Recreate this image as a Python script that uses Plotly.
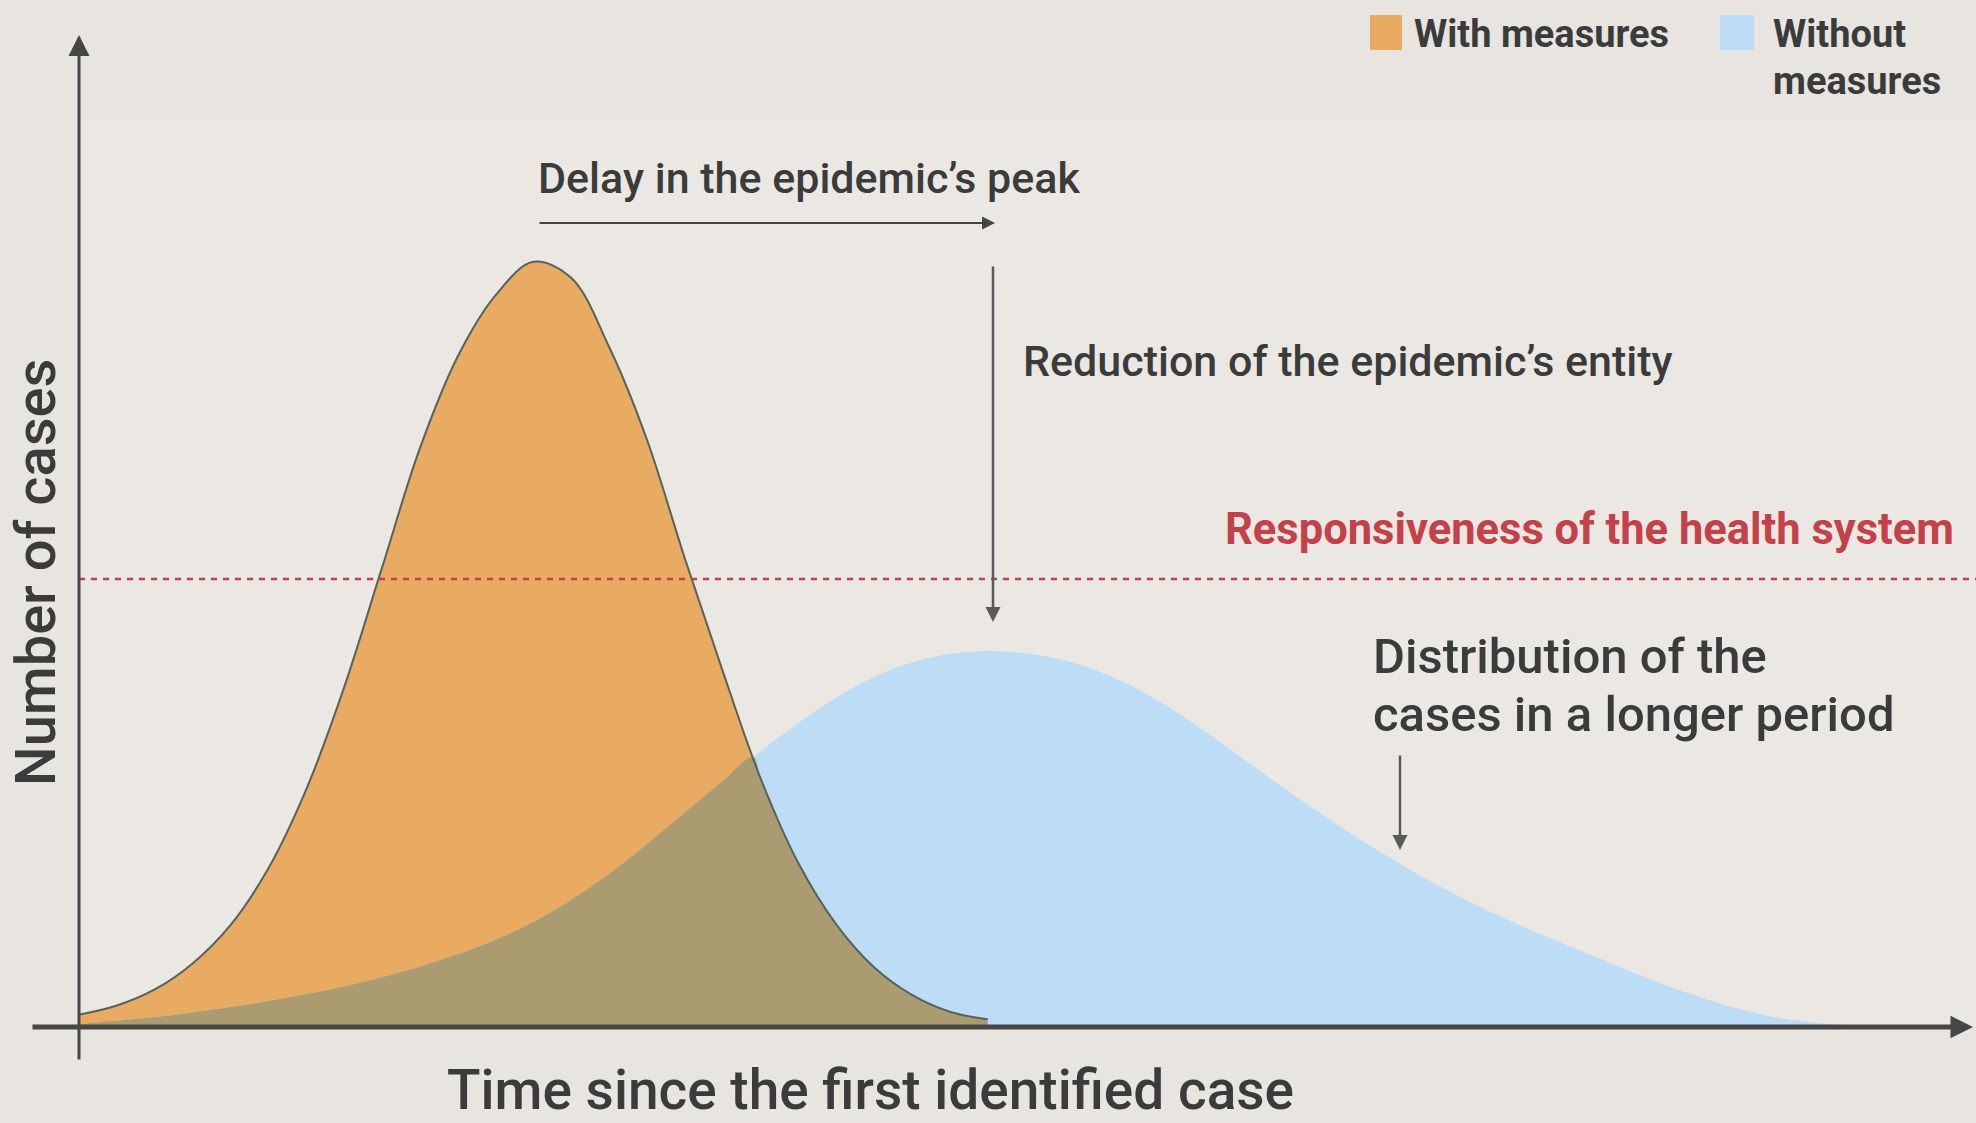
import numpy as np
import plotly.graph_objects as go

# ---- data (arbitrary units) ----
time_with = [0, 2, 4, 6, 8, 10, 12, 14, 16, 18, 20, 22, 24, 26, 28, 30, 32, 34, 36, 38, 40, 42, 44, 46, 48]
cases_with = [1.6, 2.8, 4.9, 8.3, 13.3, 20.7, 31.0, 44.3, 59.9, 75.5, 87.5, 95.5, 99.9, 97.8, 88.8,
              76.7, 61.2, 46.5, 32.5, 21.4, 13.4, 7.8, 4.2, 2.0, 1.0]

time_without = [0, 2, 4, 6, 8, 10, 12, 14, 16, 18, 20, 22, 24, 26, 28, 30, 32, 34, 36, 38, 40, 42, 44, 46, 48,
                50, 52, 54, 56, 58, 60, 62, 64, 66, 68, 70, 72, 74, 76, 78, 80, 82, 84, 86, 88, 90, 92, 94, 96]
cases_without = [0.4, 0.8, 1.3, 1.9, 2.6, 3.4, 4.3, 5.3, 6.5, 7.9, 9.5, 11.4, 13.7, 16.6, 20.0, 23.9, 28.0,
                 32.1, 36.0, 39.7, 43.0, 45.7, 47.6, 48.7, 49.1, 48.8, 47.9, 46.3, 44.0, 41.1, 37.7, 34.1,
                 30.6, 27.2, 24.0, 21.0, 18.2, 15.7, 13.4, 11.3, 9.3, 7.2, 5.3, 3.6, 2.2, 1.1, 0.5, 0.2, 0.0]

health_capacity = 58.5

legend_labels = ["With measures", "Without", "measures"]

# ---- colours ----
BG = "#e8e4e0"
PANEL = "#ebe8e4"
ORANGE = "#e9aa62"
BLUE = "#bddcf6"
OLIVE = "#aa9c70"
OUTLINE = "#55635d"
RED = "#c5414a"
TXT = "#3a3c3b"
AXIS = "#464646"
FONT = "Roboto"

W, H = 1976, 1123
PX_X = 18.93   # pixels per time unit
PX_Y = 7.66    # pixels per case unit
X0_PX, Y0_PX = 79, 1027
xmin = -X0_PX / PX_X
xmax = xmin + W / PX_X
ymin = -(H - Y0_PX) / PX_Y
ymax = ymin + H / PX_Y


def X(px):
    return (px - X0_PX) / PX_X


def Y(py):
    return (Y0_PX - py) / PX_Y


# ---- overlap (area under both curves) ----
tw = np.array(time_with, float)
ow = np.array(cases_with, float)
bw = np.array(cases_without[:len(time_with)], float)
ov_x, ov_y = [], []
for i in range(len(tw)):
    ov_x.append(tw[i])
    ov_y.append(min(ow[i], bw[i]))
    if i < len(tw) - 1:
        d0 = ow[i] - bw[i]
        d1 = ow[i + 1] - bw[i + 1]
        if d0 * d1 < 0:
            f = d0 / (d0 - d1)
            ov_x.append(tw[i] + f * (tw[i + 1] - tw[i]))
            ov_y.append(ow[i] + f * (ow[i + 1] - ow[i]))

fig = go.Figure()

fig.add_trace(go.Scatter(x=time_with, y=cases_with, mode="lines", fill="tozeroy",
                         fillcolor=ORANGE, line=dict(width=0, shape="spline", color=ORANGE),
                         showlegend=False, hoverinfo="skip"))
fig.add_trace(go.Scatter(x=time_without, y=cases_without, mode="lines", fill="tozeroy",
                         fillcolor=BLUE, line=dict(width=0, shape="spline", color=BLUE),
                         showlegend=False, hoverinfo="skip"))
fig.add_trace(go.Scatter(x=ov_x, y=ov_y, mode="lines", fill="tozeroy",
                         fillcolor=OLIVE, line=dict(width=0, shape="spline", color=OLIVE),
                         showlegend=False, hoverinfo="skip"))
fig.add_trace(go.Scatter(x=time_with, y=cases_with, mode="lines",
                         line=dict(width=2, shape="spline", color=OUTLINE),
                         showlegend=False, hoverinfo="skip"))

shapes = [
    # lighter panel
    dict(type="rect", xref="x", yref="y", x0=X(83), x1=xmax, y0=0, y1=Y(120),
         fillcolor=PANEL, line=dict(width=0), layer="below"),
    # health system capacity
    dict(type="line", xref="x", yref="y", x0=0, x1=xmax, y0=health_capacity, y1=health_capacity,
         line=dict(color=RED, width=2.5, dash="6px,6px")),
    # legend swatches
    dict(type="rect", xref="x", yref="y", x0=X(1370), x1=X(1402), y0=Y(50), y1=Y(15),
         fillcolor=ORANGE, line=dict(width=0)),
    dict(type="rect", xref="x", yref="y", x0=X(1720), x1=X(1754), y0=Y(50), y1=Y(15),
         fillcolor=BLUE, line=dict(width=0)),
]


def arrow(x0, y0, x1, y1, width, color, size=1.0, head=2):
    return dict(x=x1, y=y1, ax=x0, ay=y0, xref="x", yref="y", axref="x", ayref="y",
                text="", showarrow=True, arrowhead=head, arrowsize=size,
                arrowwidth=width, arrowcolor=color, standoff=0, startstandoff=0)


def label(x, y, text, size, color=TXT, weight=500, xanchor="left", angle=0):
    return dict(x=x, y=y, xref="x", yref="y", text=text, showarrow=False,
                xanchor=xanchor, yanchor="middle", textangle=angle, align="left",
                font=dict(family=FONT, size=size, color=color, weight=weight))


annotations = [
    # axes
    arrow(0, Y(1061), 0, Y(35), 3, AXIS, 1.4),
    arrow(X(31), 0, X(1973), 0, 5, AXIS, 0.9),
    # delay arrow
    arrow(X(538), Y(223), X(995), Y(223), 2, "#444444", 1.3),
    # reduction arrow
    arrow(X(993), Y(265), X(993), Y(622), 2.5, "#5a5a5a", 1.2),
    # distribution arrow
    arrow(X(1400), Y(754), X(1400), Y(850), 2.5, "#5a5a5a", 1.2),
    label(X(536), Y(178), "Delay in the epidemic’s peak", 43),
    label(X(1021), Y(361), "Reduction of the epidemic’s entity", 43),
    label(X(1223), Y(529), "Responsiveness of the health system", 43.5, RED, "bold"),
    label(X(1371), Y(656), "Distribution of the", 49),
    label(X(1371), Y(714), "cases in a longer period", 49),
    label(X(36), Y(573), "Number of cases", 56, TXT, 500, "center", -90),
    label(X(870), Y(1090), "Time since the first identified case", 55, TXT, 500, "center"),
    label(X(1412), Y(34), legend_labels[0], 38, TXT, "bold"),
    label(X(1771), Y(34), legend_labels[1], 38, TXT, "bold"),
    label(X(1771), Y(81), legend_labels[2], 38, TXT, "bold"),
]

fig.update_layout(
    width=W, height=H,
    margin=dict(l=0, r=0, t=0, b=0),
    paper_bgcolor=BG, plot_bgcolor=BG,
    xaxis=dict(range=[xmin, xmax], visible=False, fixedrange=True),
    yaxis=dict(range=[ymin, ymax], visible=False, fixedrange=True),
    shapes=shapes,
    annotations=annotations,
    showlegend=False,
)

fig.write_html("out.html", config={"displayModeBar": False},
               post_script="document.body.style.margin='0';document.body.style.overflow='hidden';")
